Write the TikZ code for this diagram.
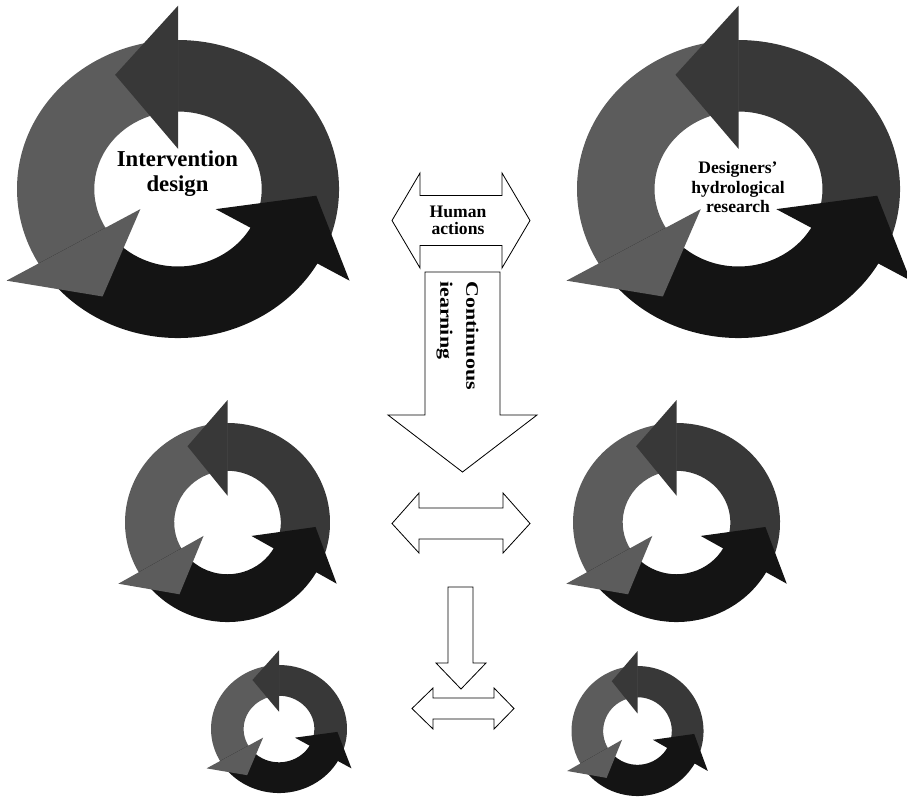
\documentclass[tikz,border=0pt]{standalone}
\usepackage{fontspec}
\setmainfont{Liberation Serif}
\usetikzlibrary{positioning}
\definecolor{ringdark}{HTML}{383838}
\definecolor{ringgrey}{HTML}{5C5C5C}
\definecolor{ringblack}{HTML}{141414}

\tikzset{
  pics/cyclering/.style={code={
    \begin{scope}[yscale=-1]
    % bodies first, heads on top
    \foreach \b/\col in {90/ringdark,210/ringgrey,330/ringblack}
      \fill[\col] (\b-120:1) arc[start angle=\b-120, end angle=\b+2, radius=1]
        -- (\b+2:0.52) arc[start angle=\b+2, end angle=\b-120, radius=0.52] -- cycle;
    \foreach \b/\col in {90/ringdark,210/ringgrey,330/ringblack}
      \fill[\col] (\b:0.27) -- (\b:1.23) -- (\b+27:0.86) -- cycle;
    \end{scope}
  }},
  blockarrow/.style={draw=black, fill=white, line width=0.7pt, line join=miter},
  ringlabel/.style={align=center, inner sep=0pt, font=\bfseries\fontsize{15}{17}\selectfont},
}

\begin{document}
\begin{tikzpicture}[x=0.03cm,y=-0.03cm]
\useasboundingbox (0,0) rectangle (907,800);

% big cycles
\pic[xscale=161, yscale=149] (ringA) at (178,189) {cyclering};
\pic[xscale=161.5, yscale=149] (ringB) at (738.5,189) {cyclering};
\node[ringlabel, font=\bfseries\fontsize{19.4}{21.3}\selectfont] (design) at (177.5,174) {Intervention\\design};
\node[ringlabel] (research) at (738,187) {Designers’\\hydrological\\research};

% middle cycles
\pic[xscale=102.5, yscale=99.5] (ringC) at (227.5,522.5) {cyclering};
\pic[xscale=103.5, yscale=99.5] (ringD) at (676.5,522.5) {cyclering};

% small cycles
\pic[xscale=68, yscale=64] (ringE) at (279,729) {cyclering};
\pic[xscale=66, yscale=65] (ringF) at (637.5,731) {cyclering};

% block arrows
\draw[blockarrow] (392,220.5) -- (420,173) -- (420,195.5) -- (502,195.5) -- (502,173)
  -- (530,220.5) -- (502,268) -- (502,245.5) -- (420,245.5) -- (420,268) -- cycle;
\node[ringlabel, font=\bfseries\fontsize{15}{14.8}\selectfont] (actions) at (458,220) {Human\\actions};

\draw[blockarrow] (425,272) -- (500,272) -- (500,415) -- (537,415) -- (462.5,472)
  -- (388,415) -- (425,415) -- cycle;
\node[ringlabel, align=left, rotate=-90, xscale=1.25,
  font=\bfseries\fontsize{15}{22.2}\selectfont] (learning) at (457.5,335.5) {Continuous\\iearning};

\draw[blockarrow] (392,523.5) -- (419,493) -- (419,508) -- (503,508) -- (503,493)
  -- (530,523.5) -- (503,553) -- (503,539) -- (419,539) -- (419,553) -- cycle;

\draw[blockarrow] (448,587) -- (473,587) -- (473,663) -- (486,663) -- (461,689)
  -- (436,663) -- (448,663) -- cycle;

\draw[blockarrow] (412,708.5) -- (433,688) -- (433,698) -- (494,698) -- (494,688)
  -- (514,708.5) -- (494,729) -- (494,719) -- (433,719) -- (433,729) -- cycle;
\end{tikzpicture}
\end{document}
